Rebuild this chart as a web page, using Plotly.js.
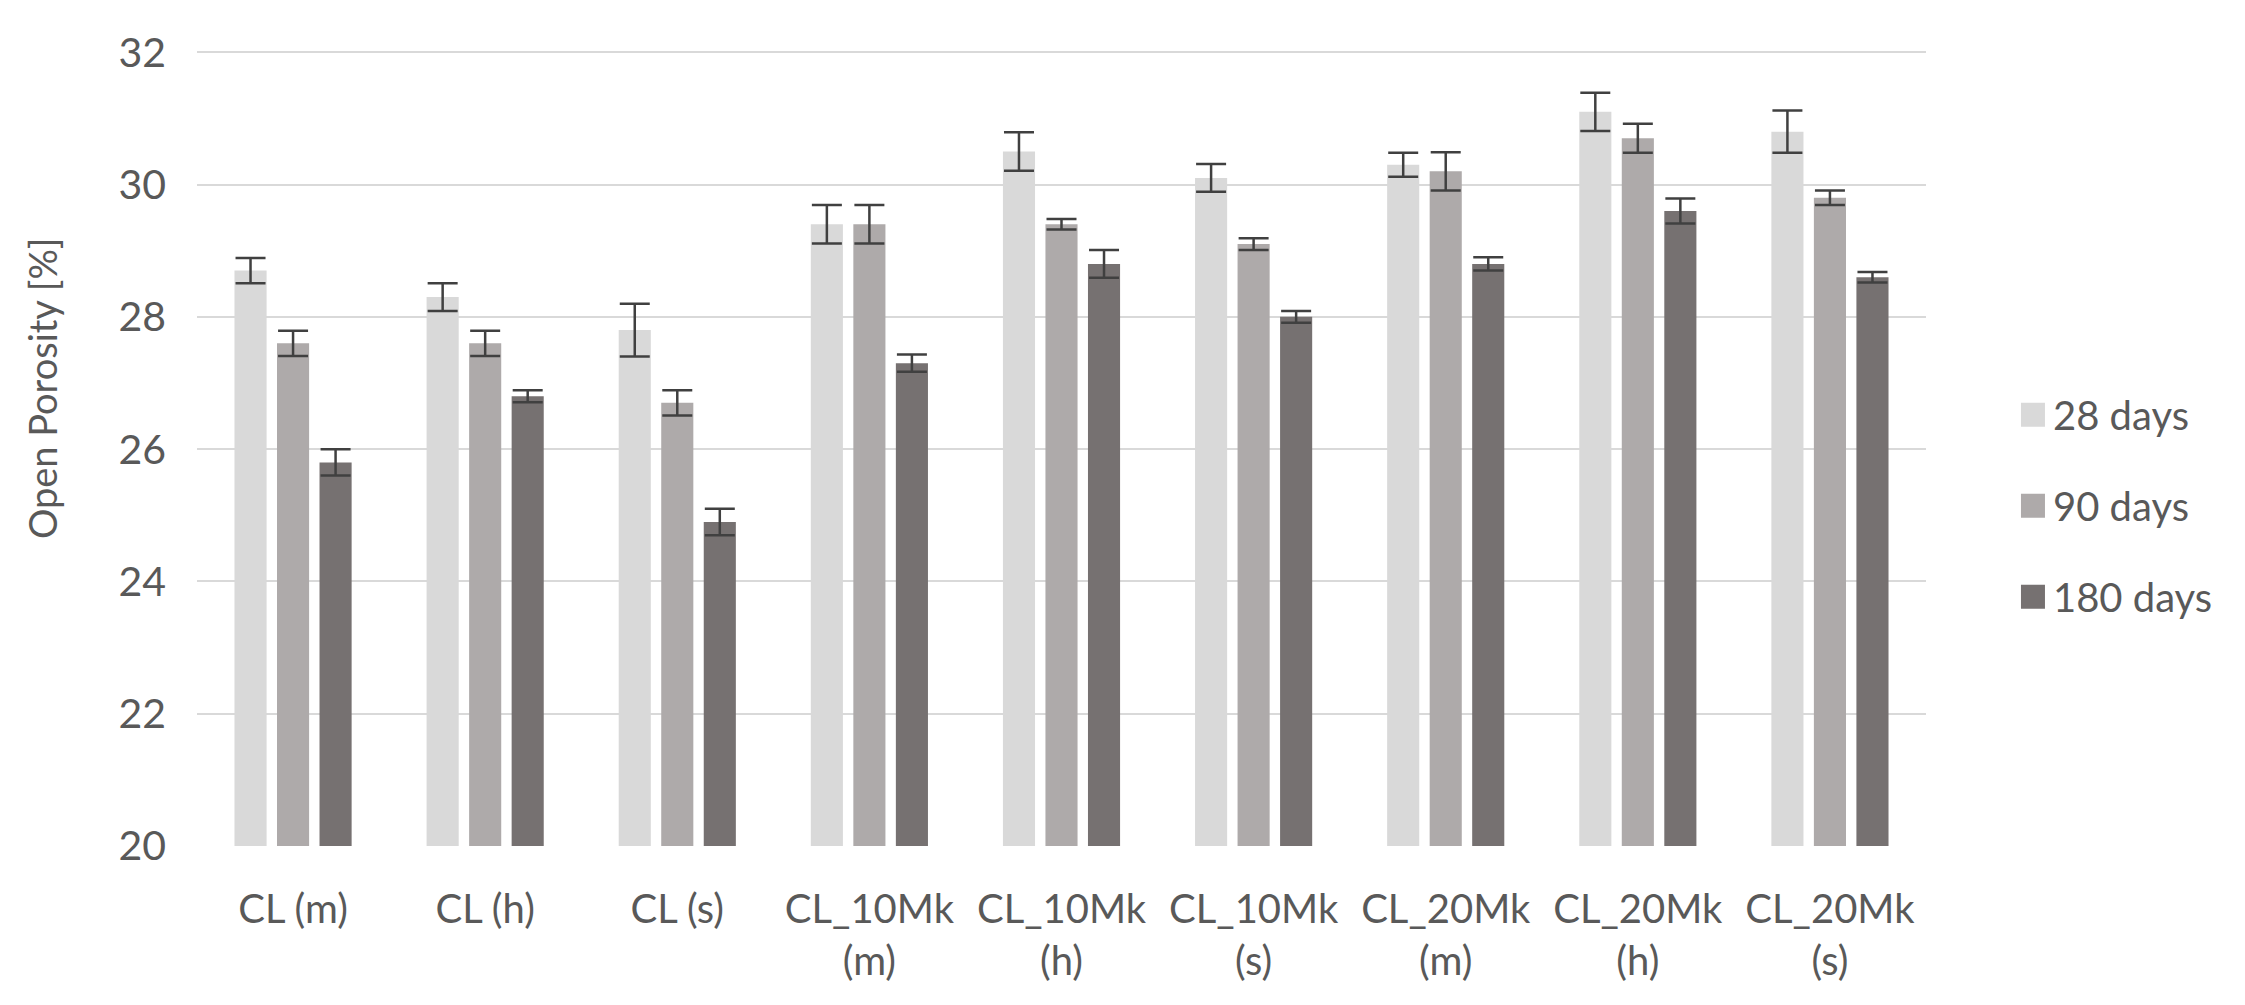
<!DOCTYPE html>
<html>
<head>
<meta charset="utf-8">
<script src="https://cdn.plot.ly/plotly-3.0.1.min.js"></script>
<style>
  html, body { margin: 0; padding: 0; background: #ffffff; }
  #chart { width: 2245px; height: 1005px; }
</style>
</head>
<body>
<div id="chart"></div>
<script>
// ---- data ----
const categories = ['CL (m)', 'CL (h)', 'CL (s)', 'CL_10Mk (m)', 'CL_10Mk (h)', 'CL_10Mk (s)', 'CL_20Mk (m)', 'CL_20Mk (h)', 'CL_20Mk (s)'];
const tickLabels = ['CL (m)', 'CL (h)', 'CL (s)', 'CL_10Mk<br>(m)', 'CL_10Mk<br>(h)', 'CL_10Mk<br>(s)', 'CL_20Mk<br>(m)', 'CL_20Mk<br>(h)', 'CL_20Mk<br>(s)'];
const seriesNames = ['28 days', '90 days', '180 days'];

const days28  = [28.7, 28.3, 27.8, 29.4, 30.5, 30.1, 30.3, 31.1, 30.8];
const err28   = [0.19, 0.21, 0.40, 0.29, 0.29, 0.21, 0.18, 0.29, 0.32];
const days90  = [27.6, 27.6, 26.7, 29.4, 29.4, 29.1, 30.2, 30.7, 29.8];
const err90   = [0.19, 0.19, 0.19, 0.29, 0.08, 0.09, 0.29, 0.22, 0.11];
const days180 = [25.8, 26.8, 24.9, 27.3, 28.8, 28.0, 28.8, 29.6, 28.6];
const err180  = [0.20, 0.09, 0.20, 0.13, 0.21, 0.09, 0.10, 0.19, 0.08];

const yTicks = [20, 22, 24, 26, 28, 30, 32];

// ---- styling ----
const FONT = 'Lato, "Open Sans", sans-serif';
const TEXT = '#595959';
const colors = ['#d9d9d9', '#aeaaaa', '#767171'];
const values = [days28, days90, days180];
const errors = [err28, err90, err180];

const traces = seriesNames.map((name, i) => ({
  type: 'bar',
  name: name,
  x: categories,
  y: values[i],
  marker: { color: colors[i], line: { width: 0 } },
  error_y: {
    type: 'data',
    array: errors[i],
    visible: true,
    color: '#404040',
    thickness: 2.5,
    width: 15
  },
  legendgroup: 'g' + i,
  hoverinfo: 'x+y+name'
}));

const layout = {
  width: 2245,
  height: 1005,
  paper_bgcolor: '#ffffff',
  plot_bgcolor: '#ffffff',
  font: { family: FONT, color: TEXT, size: 40 },
  margin: { l: 197, r: 319, t: 49, b: 159, pad: 0 },
  barmode: 'group',
  bargap: 0.336,
  bargroupgap: 0.245,
  showlegend: true,
  legend: {
    x: 1.0503, xanchor: 'left',
    y: 0.582, yanchor: 'top',
    traceorder: 'grouped',
    tracegroupgap: 36,
    font: { family: FONT, color: TEXT, size: 40 },
    bgcolor: 'rgba(0,0,0,0)'
  },
  xaxis: {
    type: 'category',
    tickmode: 'array',
    tickvals: categories,
    ticktext: tickLabels,
    ticks: '',
    ticklabelstandoff: 36,
    tickfont: { family: FONT, color: TEXT, size: 40 },
    showgrid: false,
    showline: false,
    zeroline: false,
    fixedrange: true
  },
  yaxis: {
    range: [20, 32.05],
    tickmode: 'array',
    tickvals: yTicks,
    ticktext: yTicks.map(String),
    ticks: '',
    ticklabelstandoff: 30,
    tickfont: { family: FONT, color: TEXT, size: 41 },
    showgrid: true,
    gridcolor: '#d9d9d9',
    gridwidth: 2,
    showline: false,
    zeroline: false,
    fixedrange: true
  },
  annotations: [{
    text: 'Open Porosity [%]',
    xref: 'paper', yref: 'paper',
    x: -0.09, y: 0.575,
    xanchor: 'center', yanchor: 'middle',
    textangle: -90,
    showarrow: false,
    font: { family: FONT, color: TEXT, size: 38 }
  }]
};

function enlargeLegendSymbols() {
  document.querySelectorAll('.legendpoints path').forEach(p => {
    p.setAttribute('d', 'M12,12H-12V-12H12Z');
  });
}

const gd = document.getElementById('chart');
Plotly.newPlot(gd, traces, layout, { displayModeBar: false, staticPlot: true }).then(() => {
  enlargeLegendSymbols();
  requestAnimationFrame(enlargeLegendSymbols);
  setTimeout(enlargeLegendSymbols, 50);
});
gd.on && gd.on('plotly_afterplot', enlargeLegendSymbols);
</script>
</body>
</html>
